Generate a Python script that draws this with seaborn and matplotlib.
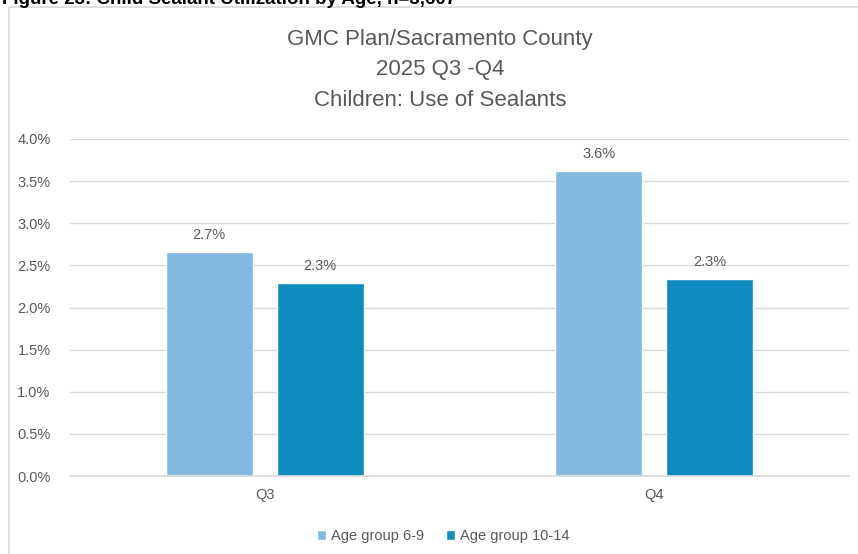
import matplotlib
matplotlib.use("Agg")
import matplotlib.pyplot as plt
from matplotlib.patches import Rectangle
from matplotlib.ticker import FuncFormatter, MultipleLocator
import seaborn as sns
import pandas as pd

# Data
quarters = ["Q3", "Q4"]
groups = ["Age group 6-9", "Age group 10-14"]
age_6_9 = [0.0266, 0.0362]
age_10_14 = [0.0229, 0.0234]
labels_6_9 = ["2.7%", "3.6%"]
labels_10_14 = ["2.3%", "2.3%"]
colors = ["#85B9E0", "#0F8BBF"]

df = pd.DataFrame({
    "Quarter": quarters * 2,
    "Group": [groups[0]] * 2 + [groups[1]] * 2,
    "Rate": age_6_9 + age_10_14,
})

sns.set_theme(style="white")
plt.rcParams["font.family"] = ["Liberation Sans", "DejaVu Sans"]

W, H = 858, 554
fig = plt.figure(figsize=(W / 100, H / 100), dpi=100)
ax = fig.add_axes([70 / W, 1 - 476 / H, (849 - 70) / W, (476 - 139) / H])

sns.barplot(data=df, x="Quarter", y="Rate", hue="Group", order=quarters,
            hue_order=groups, palette=colors, width=0.57, gap=0.22,
            saturation=1, ax=ax, legend=True, errorbar=None)

# value labels
for cont, labs in zip(ax.containers, [labels_6_9, labels_10_14]):
    ax.bar_label(cont, labels=labs, padding=7, color="#595959", fontsize=10.5)

ax.set_ylim(0, 0.04)
ax.yaxis.set_major_locator(MultipleLocator(0.005))
ax.yaxis.set_major_formatter(FuncFormatter(lambda v, p: f"{v * 100:.1f}%"))
ax.grid(axis="y", color="#D9D9D9", linewidth=1)
ax.set_axisbelow(True)
for s in ["top", "right", "left"]:
    ax.spines[s].set_visible(False)
ax.spines["bottom"].set_color("#D9D9D9")
ax.tick_params(axis="both", length=0, colors="#595959", labelsize=10.5)
ax.tick_params(axis="y", pad=14)
ax.tick_params(axis="x", pad=9)
ax.set_xlabel("")
ax.set_ylabel("")

# legend below the plot
handles, labs = ax.get_legend_handles_labels()
ax.get_legend().remove()
fig.legend(handles, labs, loc="center", bbox_to_anchor=(443 / W, 1 - 536 / H),
           ncol=2, frameon=False, fontsize=10.5, labelcolor="#595959",
           handlelength=0.65, handleheight=0.65, handletextpad=0.3,
           columnspacing=1.5)

# titles
title_color = "#595959"
fig.text(440 / W, 1 - 39 / H, "GMC Plan/Sacramento County", ha="center",
         va="center", fontsize=16, color=title_color)
fig.text(440 / W, 1 - 70 / H, "2025 Q3 -Q4", ha="center", va="center",
         fontsize=16, color=title_color)
fig.text(440 / W, 1 - 101 / H, "Children: Use of Sealants", ha="center",
         va="center", fontsize=16, color=title_color)

# chart frame
fig.patches.append(Rectangle((9 / W, -0.05), 1.0, 1 - 7 / H + 0.05,
                             transform=fig.transFigure, fill=False,
                             edgecolor="#D9D9D9", linewidth=1.2))

# caption above the chart frame
fig.text(2 / W, 1 - 4 / H, "Figure 23: Child Sealant Utilization by Age, n=3,607",
         ha="left", va="baseline", fontsize=13.5, fontweight="bold", color="black")

fig.savefig("out.png", dpi=100)
